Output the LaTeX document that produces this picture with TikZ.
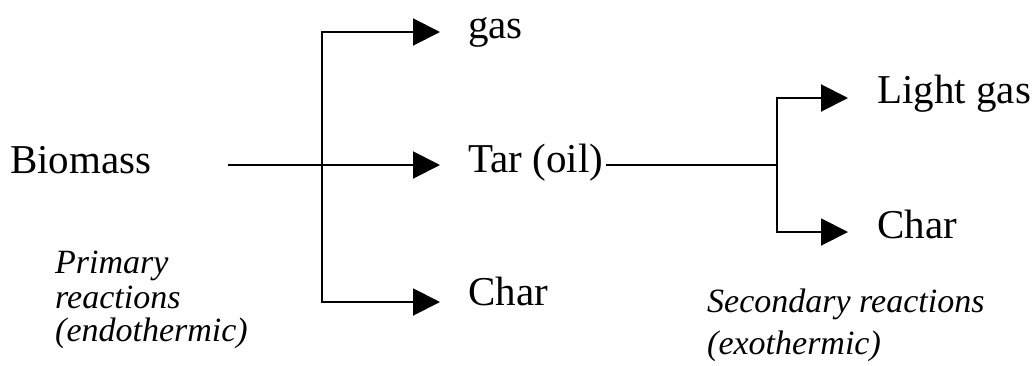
\documentclass[tikz,border=0pt]{standalone}
\usepackage{fontspec}
\setmainfont{Liberation Serif}
\usetikzlibrary{arrows.meta}
\begin{document}
\begin{tikzpicture}[x=1pt,y=-1pt,
  conn/.style={line width=2pt},
  arr/.style={conn,-{Triangle[length=27pt,width=27pt]}},
  lbl/.style={anchor=base west,inner sep=0pt,font=\fontsize{41}{41}\selectfont},
  note/.style={anchor=base west,inner sep=0pt,font=\fontsize{34}{34}\selectfont\itshape}]
\useasboundingbox (0,0) rectangle (1033,365);
% text nodes
\node[lbl] (bio) at (10,173) {Biomass};
\node[lbl] (gas) at (468,38) {gas};
\node[lbl] (tar) at (468,172) {Tar (oil)};
\node[lbl] (char) at (468,305) {Char};
\node[lbl] (light) at (877,103) {Light gas};
\node[lbl] (char2) at (877,238) {Char};
\node[note] (p1) at (55,273) {Primary};
\node[note] (p2) at (55,308) {reactions};
\node[note] (p3) at (55,341) {(endothermic)};
\node[note] (s1) at (707,312) {Secondary reactions};
\node[note] (s2) at (707,354) {(exothermic)};
% coordinates
\coordinate (s0) at (228,165);
\coordinate (c1) at (322,165);
\coordinate (tGas) at (440,32);
\coordinate (tTar) at (440,165);
\coordinate (tChar) at (440,302);
\coordinate (j2) at (777,165);
\coordinate (tLight) at (848,98);
\coordinate (tChar2) at (848,232);
% connectors
\draw[arr] (s0) -- (tTar);
\draw[arr] (c1) |- (tGas);
\draw[arr] (c1) |- (tChar);
\draw[conn] ([xshift=3pt]tar.east |- j2) -- (j2);
\draw[arr] (j2) |- (tLight);
\draw[arr] (j2) |- (tChar2);
\end{tikzpicture}
\end{document}
